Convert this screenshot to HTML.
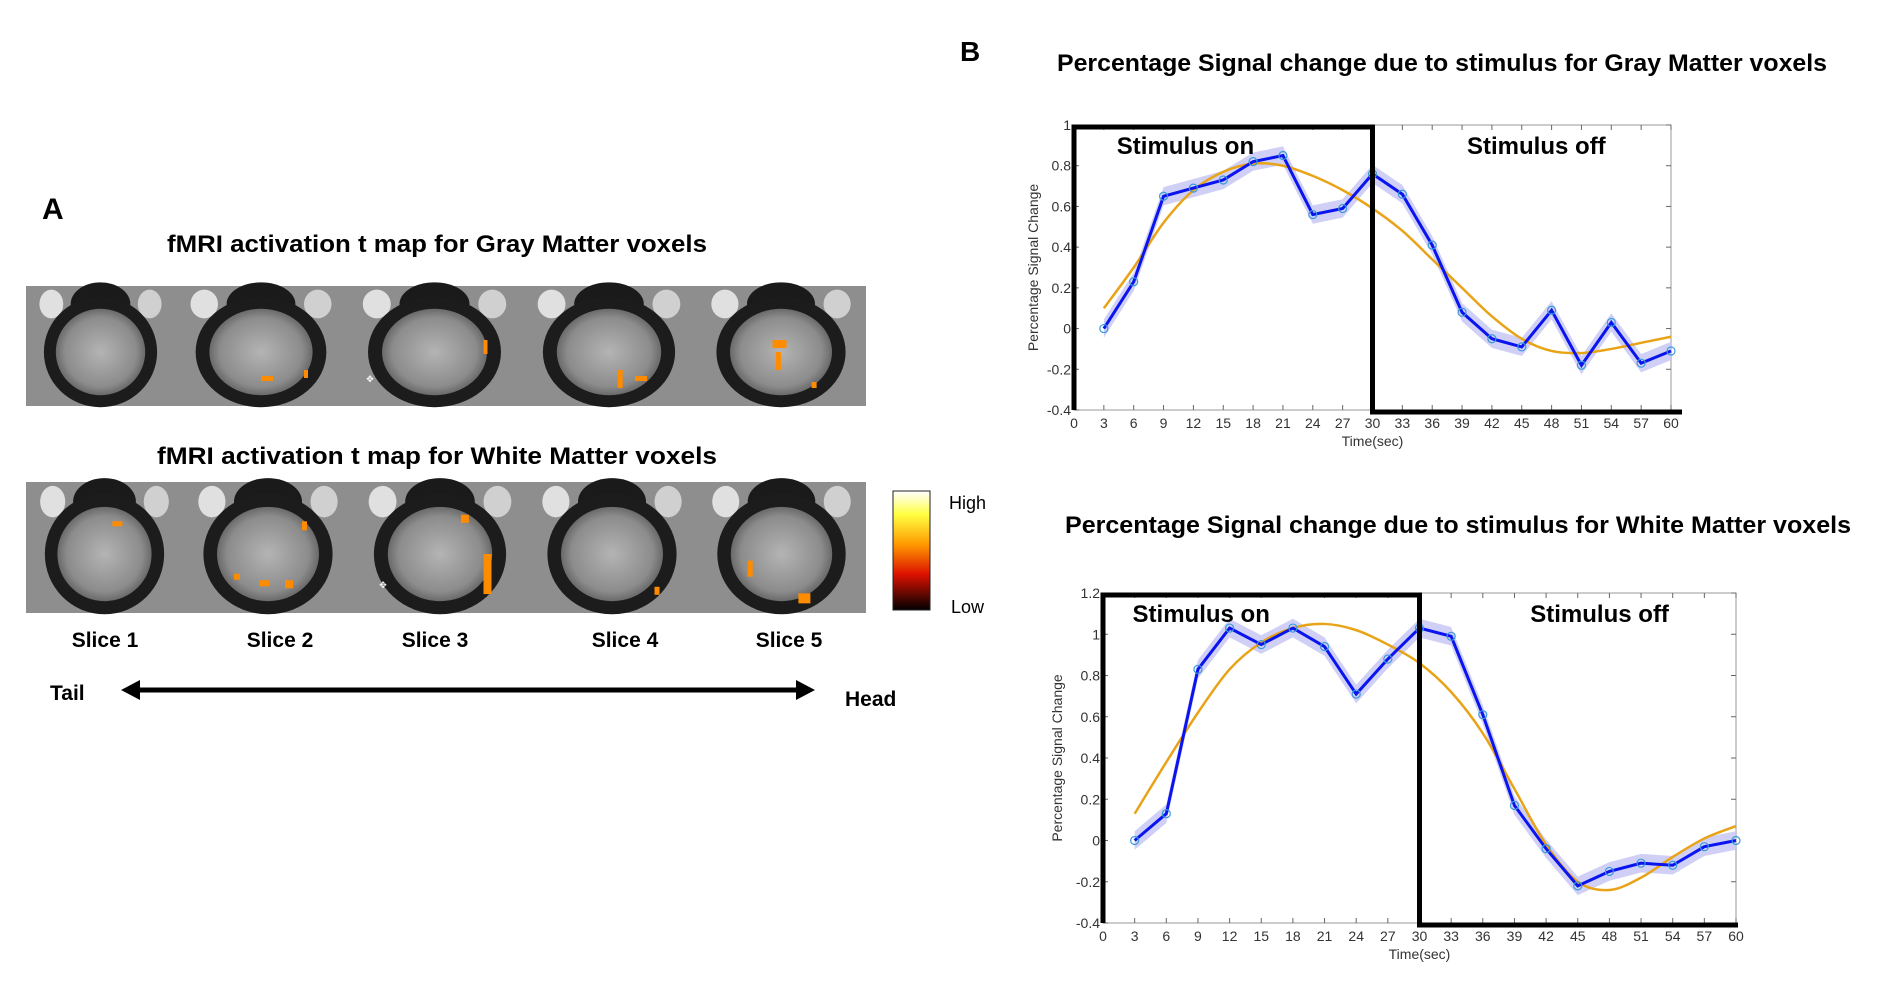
<!DOCTYPE html>
<html><head><meta charset="utf-8"><style>
html,body{margin:0;padding:0;background:#fff;}
svg{display:block;}
.bt{font-family:"Liberation Sans",sans-serif;font-weight:bold;fill:#000;}
.tk{font-family:"Liberation Sans",sans-serif;font-size:14px;fill:#333;}
</style></head><body>
<svg id="fig" width="1881" height="1007" viewBox="0 0 1881 1007" xmlns="http://www.w3.org/2000/svg">
<defs>
<linearGradient id="cbar" x1="0" y1="0" x2="0" y2="1">
<stop offset="0" stop-color="#ffffff"/><stop offset="0.2" stop-color="#ffff40"/><stop offset="0.45" stop-color="#ff9900"/><stop offset="0.7" stop-color="#dd1100"/><stop offset="1" stop-color="#000"/>
</linearGradient>
<radialGradient id="brainIn" cx="0.5" cy="0.5" r="0.5"><stop offset="0" stop-color="#b4b4b4"/><stop offset="0.8" stop-color="#8c8c8c"/><stop offset="1" stop-color="#6a6a6a"/></radialGradient>
</defs>
<text class="bt" x="42" y="219" font-size="30">A</text>
<text class="bt" x="437" y="252" font-size="24" text-anchor="middle" textLength="540" lengthAdjust="spacingAndGlyphs">fMRI activation t map for Gray Matter voxels</text>
<text class="bt" x="437" y="464" font-size="24" text-anchor="middle" textLength="560" lengthAdjust="spacingAndGlyphs">fMRI activation t map for White Matter voxels</text>
<g id="slices"></g>
<rect x="893" y="491" width="37" height="119" fill="url(#cbar)" stroke="#222"/>
<text x="949" y="509" font-family="Liberation Sans,sans-serif" font-size="18">High</text>
<text x="951" y="613" font-family="Liberation Sans,sans-serif" font-size="18">Low</text>
<g>
<text class="bt" x="105" y="647" font-size="21" text-anchor="middle">Slice 1</text>
<text class="bt" x="280" y="647" font-size="21" text-anchor="middle">Slice 2</text>
<text class="bt" x="435" y="647" font-size="21" text-anchor="middle">Slice 3</text>
<text class="bt" x="625" y="647" font-size="21" text-anchor="middle">Slice 4</text>
<text class="bt" x="789" y="647" font-size="21" text-anchor="middle">Slice 5</text>
</g>
<text class="bt" x="50" y="700" font-size="21">Tail</text>
<text class="bt" x="845" y="706" font-size="21">Head</text>
<g>
<line x1="135" y1="690" x2="800" y2="690" stroke="#000" stroke-width="5"/>
<polygon points="121,690 140,680 140,700" fill="#000"/>
<polygon points="815,690 796,680 796,700" fill="#000"/>
</g>
<text class="bt" x="960" y="61" font-size="28">B</text>
<text class="bt" x="1442" y="71" font-size="24" text-anchor="middle" textLength="770" lengthAdjust="spacingAndGlyphs">Percentage Signal change due to stimulus for Gray Matter voxels</text>
<text class="bt" x="1458" y="533" font-size="24" text-anchor="middle" textLength="786" lengthAdjust="spacingAndGlyphs">Percentage Signal change due to stimulus for White Matter voxels</text>
<g id="chart1"></g>
<g id="chart2"></g>
</svg>
<script>
const times = [3,6,9,12,15,18,21,24,27,30,33,36,39,42,45,48,51,54,57,60];
const xTicks = [0,3,6,9,12,15,18,21,24,27,30,33,36,39,42,45,48,51,54,57,60];
const gmValues = [0,0.23,0.65,0.69,0.73,0.82,0.85,0.56,0.59,0.76,0.66,0.41,0.08,-0.05,-0.09,0.09,-0.18,0.03,-0.17,-0.11];
const gmFit = [0.10,0.30,0.52,0.68,0.77,0.81,0.80,0.75,0.68,0.59,0.48,0.34,0.20,0.06,-0.05,-0.11,-0.12,-0.10,-0.07,-0.04];
const gmYTicks = [-0.4,-0.2,0,0.2,0.4,0.6,0.8,1];
const wmValues = [0,0.13,0.83,1.03,0.95,1.03,0.94,0.71,0.88,1.03,0.99,0.61,0.17,-0.04,-0.22,-0.15,-0.11,-0.12,-0.03,0.0];
const wmFit = [0.13,0.38,0.62,0.83,0.96,1.03,1.05,1.02,0.95,0.86,0.72,0.52,0.25,-0.02,-0.20,-0.24,-0.18,-0.08,0.01,0.07];
const wmYTicks = [-0.4,-0.2,0,0.2,0.4,0.6,0.8,1,1.2];
const NS='http://www.w3.org/2000/svg';
function mk(tag,attrs,parent){const e=document.createElementNS(NS,tag);for(const k in attrs)e.setAttribute(k,attrs[k]);parent.appendChild(e);return e;}
function smooth(pts){let d='M'+pts[0][0]+','+pts[0][1];for(let i=0;i<pts.length-1;i++){const p0=pts[Math.max(0,i-1)],p1=pts[i],p2=pts[i+1],p3=pts[Math.min(pts.length-1,i+2)];
d+=' C'+(p1[0]+(p2[0]-p0[0])/6)+','+(p1[1]+(p2[1]-p0[1])/6)+' '+(p2[0]-(p3[0]-p1[0])/6)+','+(p2[1]-(p3[1]-p1[1])/6)+' '+p2[0]+','+p2[1];}return d;}
function chart(g,L,R,T,B,ymin,ymax,yticks,vals,fit,thickEnd,ylabX,onT,offT){
 const x=v=>L+(v-0)/(60-0)*(R-L);
 const y=v=>B-(v-ymin)/(ymax-ymin)*(B-T);
 const frame=mk('rect',{x:L,y:T,width:R-L,height:B-T,fill:'none',stroke:'#999','stroke-width':1},g);
 
 
 xTicks.forEach(t=>{mk('line',{x1:x(t),x2:x(t),y1:B,y2:B-5,stroke:'#666'},g);mk('line',{x1:x(t),x2:x(t),y1:T,y2:T+5,stroke:'#666'},g);
  const tx=mk('text',{x:x(t),y:B+18,class:'tk','text-anchor':'middle'},g);tx.textContent=t;
  
  });
 yticks.forEach(t=>{mk('line',{x1:L,x2:L+5,y1:y(t),y2:y(t),stroke:'#666'},g);mk('line',{x1:R,x2:R-5,y1:y(t),y2:y(t),stroke:'#666'},g);
  const tx=mk('text',{x:L-3,y:y(t)+5,class:'tk','text-anchor':'end'},g);tx.textContent=Math.round(t*10)/10;
  
  });
 const xl=mk('text',{x:(L+R)/2,y:B+36,class:'tk','text-anchor':'middle'},g);xl.textContent='Time(sec)';
 
 
 const yl=mk('text',{x:0,y:0,class:'tk','text-anchor':'middle',transform:'translate('+ylabX+','+((T+B)/2)+') rotate(-90)'},g);yl.textContent='Percentage Signal Change';
 
 
 const err=0.045;
 const up=times.map((t,i)=>x(t)+','+y(vals[i]+err)),dn=times.map((t,i)=>x(t)+','+y(vals[i]-err)).reverse();
 const band=mk('polygon',{points:up.concat(dn).join(' '),fill:'#c8c8f4',opacity:0.85},g);
 
 
 const fp=mk('path',{d:smooth(times.map((t,i)=>[x(t),y(fit[i])])),fill:'none',stroke:'#e8a317','stroke-width':2.5},g);
 
 
 const ln=mk('polyline',{points:times.map((t,i)=>x(t)+','+y(vals[i])).join(' '),fill:'none',stroke:'#0a14ee','stroke-width':3},g);
 
 
 times.forEach((t,i)=>{const c=mk('circle',{cx:x(t),cy:y(vals[i]),r:4,fill:'none',stroke:'#3a9ad9','stroke-width':1.2},g);
  
  });
 const box=mk('path',{d:'M'+x(0)+','+B+' L'+x(0)+','+(T+2)+' L'+x(30)+','+(T+2)+' L'+x(30)+','+(B+2)+' L'+thickEnd+','+(B+2),fill:'none',stroke:'#000','stroke-width':5},g);
 
 
 const on=mk('text',{x:x(onT),y:T+29,class:'bt','font-size':24},g);on.textContent='Stimulus on';
 
 
 const off=mk('text',{x:x(offT),y:T+29,class:'bt','font-size':24},g);off.textContent='Stimulus off';
 
 
}
chart(document.getElementById('chart1'),1074,1671,125,410,-0.4,1,gmYTicks,gmValues,gmFit,1682,1038,4.3,39.5);
chart(document.getElementById('chart2'),1103,1736,593,923,-0.4,1.2,wmYTicks,wmValues,wmFit,1738,1062,2.8,40.5);

// brain slices (illustrative images)
const sg=document.getElementById('slices');
const topB=[26,175,347,522,696,866], botB=[26,183,353,527,697,866];
const spotsTop=[[],[[0.5,0.75,12,5],[0.75,0.7,4,8]],[[0.78,0.45,4,14]],[[0.55,0.7,5,18],[0.65,0.75,12,5]],[[0.45,0.45,14,8],[0.47,0.55,5,18],[0.68,0.8,5,6]]];
const spotsBot=[[[0.55,0.3,10,5]],[[0.45,0.75,10,6],[0.6,0.75,8,8],[0.7,0.3,5,9],[0.3,0.7,6,6]],[[0.75,0.55,8,40],[0.62,0.25,8,8]],[[0.75,0.8,5,8]],[[0.3,0.6,5,16],[0.6,0.85,12,10]]];
function drawStrip(bounds,yT,yB,spots,label){
 for(let i=0;i<5;i++){
  const x0=bounds[i],w=bounds[i+1]-bounds[i],h=yB-yT,cx=x0+w/2,cy=yT+h*0.55;
  const g=mk('g',{},sg);
  
  
  mk('rect',{x:x0,y:yT,width:w,height:h,fill:'#8e8e8e'},g);
  mk('ellipse',{cx:cx,cy:yT+h*0.15,rx:w*0.2,ry:h*0.18,fill:'#1a1a1a'},g);
  mk('ellipse',{cx:cx-w*0.33,cy:yT+h*0.15,rx:w*0.08,ry:h*0.12,fill:'#e0e0e0'},g);
  mk('ellipse',{cx:cx+w*0.33,cy:yT+h*0.15,rx:w*0.08,ry:h*0.12,fill:'#d0d0d0'},g);
  mk('ellipse',{cx:cx,cy:cy,rx:w*0.38,ry:h*0.46,fill:'#1c1c1c'},g);
  mk('ellipse',{cx:cx,cy:cy,rx:w*0.3,ry:h*0.36,fill:'url(#brainIn)'},g);
  spots[i].forEach(s=>{mk('rect',{x:x0+w*s[0],y:yT+h*s[1],width:s[2],height:s[3],fill:'#ff8c00'},g);});
 }
}
drawStrip(topB,286,406,spotsTop,'gray');
drawStrip(botB,482,613,spotsBot,'white');
[[370,382],[383,588]].forEach(p=>{const t=mk('text',{x:p[0],y:p[1],'font-size':9,fill:'#fff','font-family':'Liberation Sans,sans-serif','text-anchor':'middle'},sg);t.textContent='✥';
 
 });
</script>
</body></html>
